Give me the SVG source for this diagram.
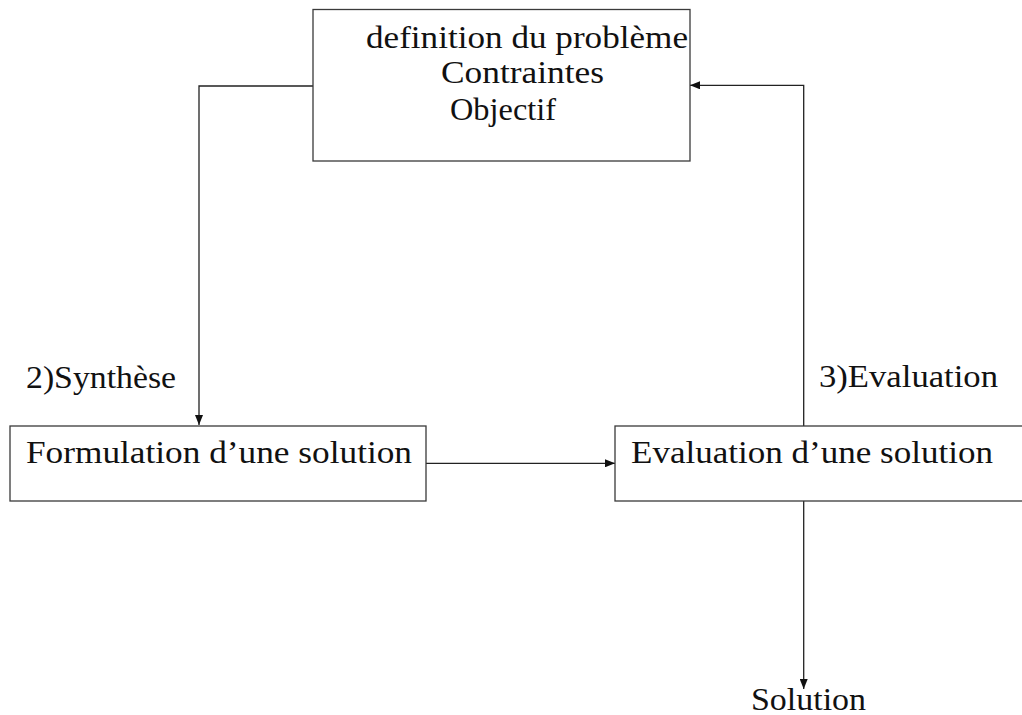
<svg xmlns="http://www.w3.org/2000/svg" width="1022" height="715" viewBox="0 0 1022 715">
<style>
.box{fill:#fff;stroke:#3a3a3a;stroke-width:1.3}
.t{font-family:"Liberation Serif","Times New Roman",serif;font-size:32px;fill:#111}
.c{fill:none;stroke:#222;stroke-width:1.3}
</style>
<defs>
<marker id="ah" viewBox="0 0 10 8" refX="10" refY="4" markerWidth="10" markerHeight="8" markerUnits="userSpaceOnUse" orient="auto">
<path d="M0,0 L10,4 L0,8 Z" fill="#111"/>
</marker>
</defs>
<rect width="1022" height="715" fill="#fff"/>
<g id="connectors">
<polyline class="c" points="313,86 199,86 199,425" marker-end="url(#ah)"/>
<line class="c" x1="426" y1="463.3" x2="615" y2="463.3" marker-end="url(#ah)"/>
<polyline class="c" points="803.7,426 803.7,85.3 690,85.3" marker-end="url(#ah)"/>
<line class="c" x1="803.7" y1="501" x2="803.7" y2="689" marker-end="url(#ah)"/>
</g>
<g id="node-definition">
<rect class="box" x="313" y="9.5" width="377" height="151.5"/>
<text class="t" x="366" y="48" textLength="322" lengthAdjust="spacingAndGlyphs">definition du problème</text>
<text class="t" x="441" y="83" textLength="163" lengthAdjust="spacingAndGlyphs">Contraintes</text>
<text class="t" x="450" y="120" textLength="106" lengthAdjust="spacingAndGlyphs">Objectif</text>
</g>
<g id="node-formulation">
<rect class="box" x="10" y="426" width="416" height="75"/>
<text class="t" x="26" y="463" textLength="386" lengthAdjust="spacingAndGlyphs">Formulation d’une solution</text>
</g>
<g id="node-evaluation">
<rect class="box" x="615" y="426" width="420" height="75"/>
<text class="t" x="631" y="463" textLength="362" lengthAdjust="spacingAndGlyphs">Evaluation d’une solution</text>
</g>
<g id="label-synthese">
<text class="t" x="26" y="388" textLength="150" lengthAdjust="spacingAndGlyphs">2)Synthèse</text>
</g>
<g id="label-evaluation">
<text class="t" x="819" y="387" textLength="179" lengthAdjust="spacingAndGlyphs">3)Evaluation</text>
</g>
<g id="node-solution">
<text class="t" x="751" y="710" textLength="115" lengthAdjust="spacingAndGlyphs">Solution</text>
</g>
</svg>
